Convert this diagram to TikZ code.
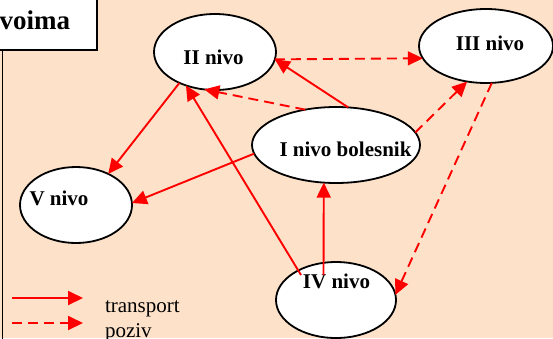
\documentclass[tikz,border=0pt]{standalone}
\usepackage{fontspec}
\setmainfont{Liberation Serif}
\usetikzlibrary{arrows.meta,shapes.geometric}
\definecolor{peach}{RGB}{253,226,201}
\tikzset{every node/.style={inner sep=0pt, outer sep=0pt}}

\begin{document}
\begin{tikzpicture}[x=1pt, y=-1pt,
			nivo/.style={ellipse, draw=black, line width=1.8pt, fill=white},
			lbl/.style={font=\fontsize{21}{25}\selectfont\bfseries},
			transport/.style={draw=red, line width=1.9pt, -{Triangle[length=15pt,width=14pt]}},
			poziv/.style={transport, dash pattern=on 10pt off 6pt},
			]
			\useasboundingbox (0,0) rectangle (553,338);
			\clip (0,0) rectangle (553,338);
			\fill[peach] (0,0) rectangle (553,338);
			
			% Frame with the title box
			\draw[line width=1.8pt] (2.5,50) -- (2.5,345);
			\draw[line width=1.8pt, fill=white] (-5,-5) rectangle (97,50);
			\node[anchor=base east, font=\fontsize{27}{31}\selectfont\bfseries] (naslov) at (70,29) {voima};
			
			% Levels as ellipses: name/x/y/width/height
			\foreach \n/\x/\y/\w/\h in {n1/336/145/168/76, n2/215/52/122/76, n3/486/46/134/74, n4/336/300/120/76, n5/76/205/112/76} {
				\node[nivo, minimum width=\w pt, minimum height=\h pt] (\n) at (\x,\y) {};
			}
			
			% Labels (not centred in the ellipses)
			\node[lbl] (t1) at (345.5,149) {I nivo bolesnik};
			\node[lbl] (t2) at (213.5,57) {II nivo};
			\node[lbl] (t3) at (490,43) {III nivo};
			\node[lbl] (t4) at (336.5,281.5) {IV nivo};
			\node[lbl] (t5) at (59,198.5) {V nivo};
			
			% Start points inside IV nivo
			\coordinate (s1) at (301,275);
			\coordinate (s5) at (323.5,275);
			
			% Transport
			\draw[transport] (s1) -- (n2.229.5);
			\draw[transport] (n2.221.5) -- (n5.44);
			\draw[transport] (n1.186) -- (n5.2);
			\draw[transport] (n1.72.5) -- (n2.353.5);
			\draw[transport] (s5) -- (n1.252.5);
			
			% Poziv
			\draw[poziv] (n2.353.5) -- (n3.191);
			\draw[poziv] (n1.131.7) -- (n2.254.5);
			\draw[poziv] (n1.9.2) -- (n3.242.8);
			\draw[poziv] (n3.279) -- (n4.5);
			
			% Legend
			\foreach \s/\y [count=\i] in {transport/298, poziv/323} {
				\coordinate (la\i) at (12,\y);
				\coordinate (lb\i) at (83,\y);
				\draw[\s] (la\i) -- (lb\i);
				\node[anchor=base west, font=\fontsize{21}{25}\selectfont] (lt\i) at (105,\y+14) {\s};
			}
			
		\end{tikzpicture}
\end{document}
